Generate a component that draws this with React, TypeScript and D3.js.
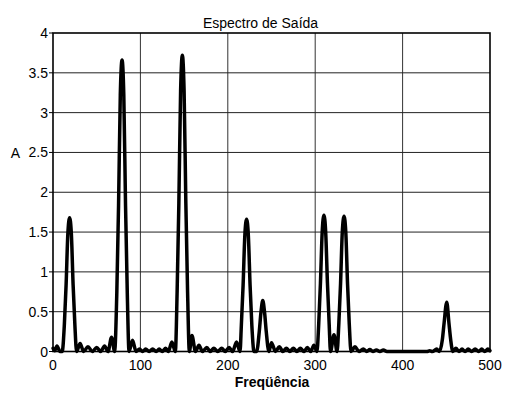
import React from "react";
import * as d3 from "d3";

const title = "Espectro de Saída";
const xLabel = "Freqüência";
const yLabel = "A";
const xTicks = [0, 100, 200, 300, 400, 500];
const yTicks = [0, 0.5, 1, 1.5, 2, 2.5, 3, 3.5, 4];

// spectrum samples (frequency, amplitude)
const freq = [
  0, 2, 4.5, 8,
  10.5, 13, 15, 17, 19, 21, 23, 25, 27,
  31, 35, 40, 45, 50, 54.5, 59, 63, 67, 70.5,
  73, 75, 77, 79, 81, 83, 85, 87,
  91, 95, 99, 102.5, 106, 110, 114, 118, 121.5, 125, 129, 132, 136, 140,
  142, 144, 146, 148, 150, 152, 154, 156,
  159, 163, 167, 171, 176, 180, 184, 188.5, 193, 197, 201.5, 205.5, 210, 214,
  215.5, 217.5, 219.5, 221.5, 223.5, 225.5, 227.5, 230,
  233, 236, 238, 240, 242, 244, 247,
  250, 254.5, 259, 263, 267, 271, 275, 279, 283, 287, 291, 295, 298.5, 302,
  304, 306, 308, 310, 312, 314, 316, 317.5,
  321.5, 325,
  327, 329, 331, 333, 335, 337, 339, 341,
  345.5, 350, 355, 359, 362.5, 366, 370, 374, 378, 382, 428, 431, 434, 439, 442,
  445.5, 447.5, 450.5, 453, 455, 457.5,
  461, 464.5, 468, 471.5, 475, 479, 483, 487, 490.5, 494, 497.5, 500,
];
const amp = [
  0.04, 0.01, 0.07, 0.0,
  0.0, 0.34, 0.84, 1.48, 1.68, 1.48, 0.84, 0.34, 0.0,
  0.1, 0.0, 0.06, 0.0, 0.05, 0.0, 0.07, 0.0, 0.18, 0.0,
  0.73, 1.83, 3.22, 3.66, 3.22, 1.83, 0.73, 0.0,
  0.14, 0.0, 0.03, 0.0, 0.03, 0.0, 0.03, 0.0, 0.03, 0.0, 0.04, 0.0, 0.12, 0.0,
  0.74, 1.86, 3.27, 3.72, 3.27, 1.86, 0.74, 0.0,
  0.2, 0.0, 0.08, 0.0, 0.05, 0.0, 0.04, 0.0, 0.04, 0.0, 0.05, 0.0, 0.12, 0.0,
  0.33, 0.83, 1.46, 1.66, 1.46, 0.83, 0.33, 0.0,
  0.0, 0.25, 0.5, 0.64, 0.5, 0.25, 0.0,
  0.11, 0.0, 0.06, 0.0, 0.04, 0.0, 0.04, 0.0, 0.04, 0.0, 0.05, 0.0, 0.08, 0.0,
  0.34, 0.86, 1.5, 1.71, 1.5, 0.86, 0.34, 0.0,
  0.21, 0.0,
  0.34, 0.85, 1.5, 1.7, 1.5, 0.85, 0.34, 0.0,
  0.06, 0.0, 0.03, 0.0, 0.025, 0.0, 0.02, 0.0, 0.02, 0.0, 0.0, 0.01, 0.0, 0.03, 0.0,
  0.15, 0.36, 0.62, 0.36, 0.15, 0.0,
  0.04, 0.0, 0.03, 0.0, 0.03, 0.0, 0.03, 0.0, 0.03, 0.0, 0.03, 0.01,
];

export default function App() {
  const W = 505;
  const H = 394;
  const left = 53;
  const right = 490;
  const top = 33;
  const bottom = 351.5;

  const x = d3.scaleLinear().domain([0, 500]).range([left, right]);
  const y = d3.scaleLinear().domain([0, 4]).range([bottom, top]);

  const pts: [number, number][] = freq.map((f, i) => [f, amp[i]]);
  const line = d3
    .line<[number, number]>()
    .x((d) => x(d[0]))
    .y((d) => y(d[1]))
    .curve(d3.curveMonotoneX);

  const font = "'Liberation Sans', Arial, sans-serif";

  return (
    <svg
      width={W}
      height={H}
      style={{ position: "absolute", left: 0, top: 0, background: "#fff" }}
      fontFamily={font}
    >
      <rect x={0} y={0} width={W} height={H} fill="#fff" />
      {/* grid */}
      {xTicks.slice(1, -1).map((t) => (
        <line key={"gx" + t} x1={x(t)} x2={x(t)} y1={top} y2={bottom} stroke="#333" strokeWidth={1} />
      ))}
      {yTicks.slice(1, -1).map((t) => (
        <line key={"gy" + t} x1={left} x2={right} y1={y(t)} y2={y(t)} stroke="#222" strokeWidth={1} />
      ))}
      {/* data */}
      <path d={line(pts) || ""} fill="none" stroke="#000" strokeWidth={3.5} strokeLinejoin="round" strokeLinecap="round" />
      {/* axes box */}
      <rect x={left} y={top} width={right - left} height={bottom - top} fill="none" stroke="#000" strokeWidth={1.6} />
      {/* y ticks */}
      {yTicks.map((t) => (
        <g key={"yt" + t}>
          <line x1={left - 4} x2={left} y1={y(t)} y2={y(t)} stroke="#000" strokeWidth={1} />
          <text x={left - 5} y={y(t) + 5} textAnchor="end" fontSize={14} fill="#000">
            {t}
          </text>
        </g>
      ))}
      {/* x ticks */}
      {xTicks.map((t) => (
        <text key={"xt" + t} x={x(t)} y={370} textAnchor="middle" fontSize={14} fill="#000">
          {t}
        </text>
      ))}
      <text x={260.5} y={28} textAnchor="middle" fontSize={14} fill="#000">
        {title}
      </text>
      <text x={272} y={386.5} textAnchor="middle" fontSize={14} fontWeight="bold" fill="#000">
        {xLabel}
      </text>
      <text x={15.5} y={158} textAnchor="middle" fontSize={14} fill="#000">
        {yLabel}
      </text>
    </svg>
  );
}
